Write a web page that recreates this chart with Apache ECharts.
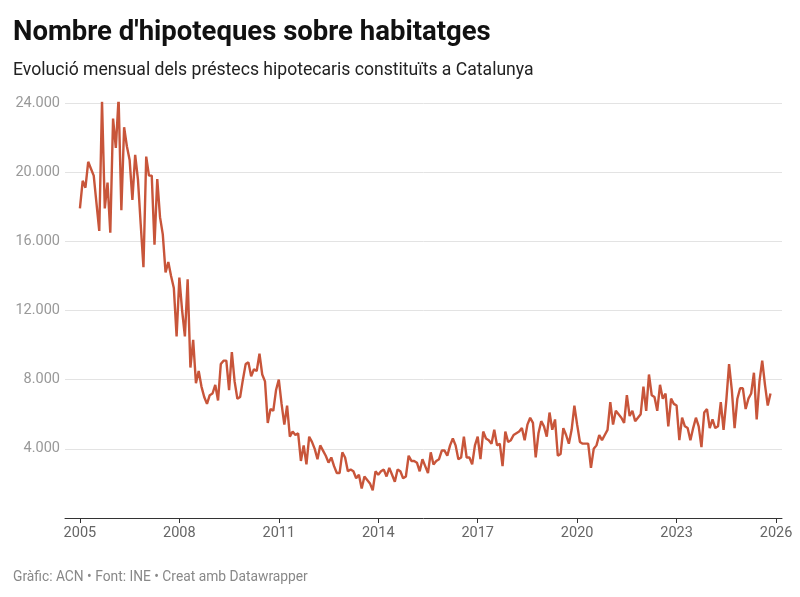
<!DOCTYPE html>
<html lang="ca">
<head>
<meta charset="UTF-8">
<title>Nombre d'hipoteques sobre habitatges</title>
<script src="https://cdn.jsdelivr.net/npm/echarts@6/dist/echarts.min.js"></script>
<style>
  html, body { margin: 0; padding: 0; background: #fff; }
  #main { width: 800px; height: 597px; }
</style>
</head>
<body>
<div id="main"></div>
<script>
// primer mes de la sèrie: gener 2005
var startYear = 2005;
// hipoteques mensuals (valors llegits del gràfic)
var hipoteques = [
  17900, 19500, 19100, 20600, 20200, 19800, 18200, 16600, 24100, 17900, 19400, 16500,
  23100, 21400, 24300, 17800, 22600, 21500, 20700, 18400, 21000, 19600, 17000, 14500,
  20900, 19800, 19800, 15800, 19600, 17400, 16400, 14200, 14800, 14000, 13300, 10500,
  13900, 12000, 10500, 13800, 8700, 10300, 7800, 8500, 7600, 7000, 6600, 7100,
  7200, 7700, 6800, 8900, 9100, 9100, 7400, 9600, 7900, 6900, 7000, 8000,
  8900, 9000, 8200, 8600, 8500, 9500, 8300, 7900, 5500, 6300, 6200, 7400,
  8000, 6600, 5400, 6500, 4700, 5000, 4800, 4900, 3300, 4200, 3100, 4700,
  4400, 4000, 3400, 4200, 3900, 3600, 3200, 3500, 3000, 2600, 2600, 3800,
  3500, 2700, 2800, 2700, 2300, 2500, 1700, 2400, 2200, 2000, 1600, 2700,
  2500, 2700, 2800, 2400, 2900, 2500, 2100, 2800, 2700, 2300, 2400, 3600,
  3300, 3300, 3200, 2700, 3400, 3000, 2600, 3800, 3100, 3300, 3400, 3900,
  3900, 3600, 4200, 4600, 4200, 3400, 3500, 4700, 3500, 3500, 3100, 4200,
  4700, 3400, 5000, 4600, 4500, 4300, 5100, 4200, 4300, 3000, 5000, 4400,
  4500, 4800, 4900, 5000, 5200, 4500, 5400, 5800, 5500, 3500, 4900, 5600,
  5300, 4700, 6100, 5100, 5700, 3600, 3700, 5200, 4800, 4300, 5100, 6500,
  5400, 4400, 4300, 4300, 4300, 2900, 4000, 4200, 4800, 4500, 4800, 5100,
  6700, 5400, 6200, 6000, 5800, 5500, 7100, 5900, 6200, 5600, 5800, 6000,
  7600, 6200, 8300, 7100, 7000, 6200, 7700, 6900, 7200, 5300, 6900, 6600,
  6500, 4500, 5800, 5300, 5200, 4500, 5200, 5800, 5300, 4100, 6100, 6300,
  5200, 5700, 5200, 5300, 6700, 5100, 6800, 8900, 7400, 5200, 6900, 7500,
  7500, 6300, 6900, 7200, 8400, 5700, 7900, 9100, 7700, 6500, 7200
];
var yearTicks = [2005, 2008, 2011, 2014, 2017, 2020, 2023, 2026];

var points = hipoteques.map(function (v, i) {
  return [startYear + i / 12, v];
});

function fmtMiles(v) {
  if (v === 0) return '';
  return String(v).replace(/\B(?=(\d{3})+(?!\d))/g, '.');
}

var myChart = echarts.init(document.getElementById('main'));
var option = {
  animation: false,
  textStyle: { fontFamily: 'Roboto' },
  title: [
    {
      text: "Nombre d'hipoteques sobre habitatges",
      left: 8, top: 14,
      textStyle: { fontSize: 27.5, fontWeight: 'bold', color: '#111', fontFamily: 'Roboto' }
    },
    {
      text: 'Evolució mensual dels préstecs hipotecaris constituïts a Catalunya',
      left: 8, top: 57,
      textStyle: { fontSize: 17.6, fontWeight: 'normal', color: '#222', fontFamily: 'Roboto' }
    },
    {
      text: 'Gràfic: ACN • Font: INE • Creat amb Datawrapper',
      left: 8, top: 566,
      textStyle: { fontSize: 13.8, fontWeight: 'normal', color: '#888', fontFamily: 'Roboto' }
    }
  ],
  grid: { left: 65, right: 18, top: 103, bottom: 79 },
  xAxis: {
    type: 'value',
    min: 2004.55,
    max: 2026.18,
    splitLine: { show: false },
    axisLine: { show: true, lineStyle: { color: '#333', width: 1 } },
    axisTick: { show: true, customValues: yearTicks, length: 5, lineStyle: { color: '#333' } },
    axisLabel: {
      customValues: yearTicks,
      color: '#666', fontSize: 14.5, margin: 8,
      formatter: function (v) { return String(v); }
    }
  },
  yAxis: {
    type: 'value',
    min: 0, max: 24000, interval: 4000,
    axisLine: { show: false },
    axisTick: { show: false },
    splitLine: { lineStyle: { color: '#e3e3e3', width: 1 } },
    axisLabel: { color: '#999', fontSize: 14.5, margin: 5, formatter: fmtMiles }
  },
  series: [{
    type: 'line',
    data: points,
    showSymbol: false,
    lineStyle: { color: '#c8553a', width: 2.4 },
    itemStyle: { color: '#c8553a' }
  }]
};
myChart.setOption(option);
</script>
</body>
</html>
